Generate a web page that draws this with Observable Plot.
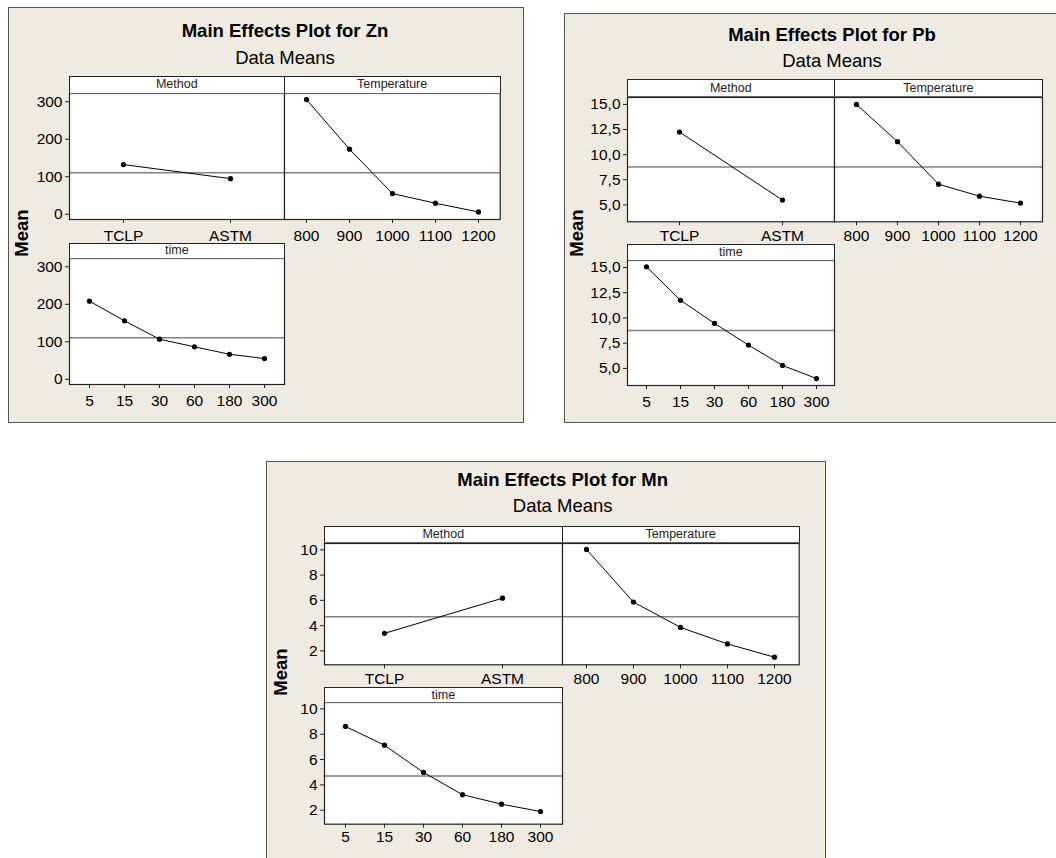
<!DOCTYPE html>
<html>
<head>
<meta charset="utf-8">
<script src="https://cdn.jsdelivr.net/npm/d3@7"></script>
<script src="https://cdn.jsdelivr.net/npm/@observablehq/plot@0.6"></script>
<style>
  html, body { margin: 0; padding: 0; background: #ffffff; overflow: hidden; width: 1056px; height: 858px;
    font-family: "Liberation Sans", Arial, sans-serif; }
  #root { position: relative; width: 1056px; height: 858px; overflow: hidden; }
  .box { position: absolute; background: #efebe2; border: 1.5px solid #555; box-sizing: border-box; }
  .title { position: absolute; font-weight: bold; font-size: 18.5px; white-space: nowrap; transform: translate(-50%, -50%); color: #000; line-height: 1; }
  .subtitle { position: absolute; font-weight: normal; font-size: 18.5px; white-space: nowrap; transform: translate(-50%, -50%); color: #000; line-height: 1; }
  .strip { position: absolute; background: #fff; border: 1.2px solid #222; border-bottom-color: #666; box-sizing: border-box;
    font-size: 12.5px; text-align: center; color: #222; display: flex; align-items: center; justify-content: center; line-height: 1; }
  .ylab { position: absolute; font-weight: bold; font-size: 18.5px; white-space: nowrap; transform: translate(-50%, -50%) rotate(-90deg); color: #000; line-height: 1; }
  .panel { position: absolute; }
</style>
</head>
<body>
<div id="root"></div>
<script>
// ---------------- data ----------------
const methods = ["TCLP", "ASTM"];
const temperatures = ["800", "900", "1000", "1100", "1200"];
const times = ["5", "15", "30", "60", "180", "300"];
const factorNames = ["Method", "Temperature", "time"];
const subtitleText = "Data Means";
const yLabelText = "Mean";

const znTitle = "Main Effects Plot for Zn";
const znMethod = [132.4, 95.0];
const znTemperature = [305.8, 173.5, 55.0, 29.4, 6.1];
const znTime = [208.2, 155.8, 106.8, 86.5, 66.7, 55.2];
const znGrandMean = 110.5;
const znTicks = [0, 100, 200, 300];

const pbTitle = "Main Effects Plot for Pb";
const pbMethod = [12.25, 5.47];
const pbTemperature = [15.0, 11.29, 7.06, 5.86, 5.17];
const pbTime = [15.06, 11.75, 9.46, 7.31, 5.30, 4.00];
const pbGrandMean = 8.76;
const pbTicks = [5, 7.5, 10, 12.5, 15];

const mnTitle = "Main Effects Plot for Mn";
const mnMethod = [3.39, 6.17];
const mnTemperature = [10.03, 5.86, 3.86, 2.55, 1.50];
const mnTime = [8.61, 7.13, 4.98, 3.23, 2.48, 1.90];
const mnGrandMean = 4.70;
const mnTicks = [2, 4, 6, 8, 10];

// ---------------- layout ----------------
const fmtInt = d => String(d);
const fmtComma = d => d.toFixed(1).replace(".", ",");
const FONT = "'Liberation Sans', Arial, sans-serif";
const TICK_FONT = 15.5;

const charts = [
  { title: znTitle, method: znMethod, temperature: znTemperature, time: znTime, mean: znGrandMean,
    ticks: znTicks, fmt: fmtInt, yDomain: [-14, 322],
    box: [8, 7, 524, 422.5], titleX: 285, titleY: 31, subY: 57.5, meanX: 22.3, meanY: 233,
    x0: 69.3, x1: 284.3, x2: 500, row1: [75.5, 93, 219], row2: [242.5, 258.3, 384.3], pad: [6.5, 6.5] },
  { title: pbTitle, method: pbMethod, temperature: pbTemperature, time: pbTime, mean: pbGrandMean,
    ticks: pbTicks, fmt: fmtComma, yDomain: [3.31, 15.69],
    box: [564.3, 13.3, 1062, 423], titleX: 832, titleY: 35, subY: 61, meanX: 577, meanY: 233,
    x0: 627.3, x1: 834.3, x2: 1042.3, row1: [79.3, 96.7, 221], row2: [244.3, 260, 385], pad: [4, 6] },
  { title: mnTitle, method: mnMethod, temperature: mnTemperature, time: mnTime, mean: mnGrandMean,
    ticks: mnTicks, fmt: fmtInt, yDomain: [0.9, 10.5],
    box: [265.5, 461, 825.5, 875], titleX: 562.7, titleY: 480, subY: 506, meanX: 281.2, meanY: 671.7,
    x0: 324.3, x1: 562.3, x2: 799, row1: [525.7, 542.7, 664], row2: [687.3, 702.3, 824], pad: [4.5, 2.5] }
];

const root = document.getElementById("root");

function addDiv(cls, text, styles) {
  const d = document.createElement("div");
  d.className = cls;
  if (text != null) d.textContent = text;
  Object.assign(d.style, styles);
  root.appendChild(d);
  return d;
}

function panel({ left, top, bottom, right, domain, values, mean, yDomain, ticks, fmt, showY, pad }) {
  const data = domain.map((k, i) => ({ k, v: values[i] }));
  const mL = 60, mR = 2, mT = 2, mB = 32;
  const w = right - left, h = bottom - top;
  const svg = Plot.plot({
    width: w + mL + mR,
    height: h + mT + mB,
    marginLeft: mL, marginRight: mR, marginTop: mT, marginBottom: mB,
    style: { background: "transparent", fontFamily: FONT, fontSize: TICK_FONT + "px", color: "#000", overflow: "visible" },
    x: { type: "point", domain, padding: 0.5, axis: null },
    y: { domain: yDomain, axis: null },
    marks: [
      Plot.frame({ fill: "white", stroke: "none" }),
      Plot.ruleY([mean], { stroke: "#808080", strokeWidth: 1.5 }),
      Plot.line(data, { x: "k", y: "v", stroke: "black", strokeWidth: 1 }),
      Plot.dot(data, { x: "k", y: "v", r: 2.6, fill: "black" }),
      Plot.frame({ stroke: "#222", strokeWidth: 1.2 }),
      Plot.axisX({ tickSize: 4, tickPadding: pad, fontSize: TICK_FONT, label: null, stroke: "#222" }),
      showY ? Plot.axisY({ ticks, tickFormat: fmt, tickSize: 4, tickPadding: 3, fontSize: TICK_FONT, label: null, stroke: "#222" }) : null
    ]
  });
  svg.classList.add("panel");
  svg.style.left = (left - mL) + "px";
  svg.style.top = (top - mT) + "px";
  svg.style.maxWidth = "none";
  root.appendChild(svg);
}

for (const c of charts) {
  const [bx0, by0, bx1, by1] = c.box;
  addDiv("box", null, { left: bx0 + "px", top: by0 + "px", width: (bx1 - bx0) + "px", height: (by1 - by0) + "px" });
  addDiv("title", c.title, { left: c.titleX + "px", top: c.titleY + "px" });
  addDiv("subtitle", subtitleText, { left: c.titleX + "px", top: c.subY + "px" });
  addDiv("ylab", yLabelText, { left: c.meanX + "px", top: c.meanY + "px" });

  const common = { mean: c.mean, yDomain: c.yDomain, ticks: c.ticks, fmt: c.fmt };
  panel({ ...common, left: c.x0, right: c.x1, top: c.row1[1], bottom: c.row1[2],
          domain: methods, values: c.method, showY: true, pad: c.pad[0] });
  panel({ ...common, left: c.x1, right: c.x2, top: c.row1[1], bottom: c.row1[2],
          domain: temperatures, values: c.temperature, showY: false, pad: c.pad[0] });
  panel({ ...common, left: c.x0, right: c.x1, top: c.row2[1], bottom: c.row2[2],
          domain: times, values: c.time, showY: true, pad: c.pad[1] });

  const strips = [
    [factorNames[0], c.x0, c.x1, c.row1],
    [factorNames[1], c.x1, c.x2, c.row1],
    [factorNames[2], c.x0, c.x1, c.row2]
  ];
  for (const [name, l, r, row] of strips) {
    addDiv("strip", name, { left: (l - 0.6) + "px", top: row[0] + "px",
      width: (r - l + 1.2) + "px", height: (row[1] - row[0] + 0.6) + "px" });
  }
}
</script>
</body>
</html>
